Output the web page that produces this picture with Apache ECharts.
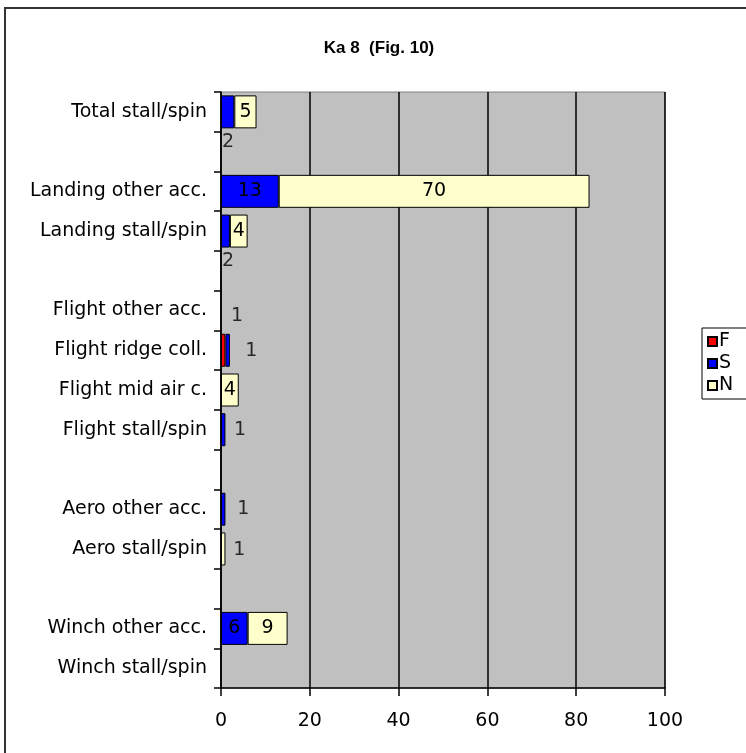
<!DOCTYPE html>
<html>
<head>
<meta charset="utf-8">
<script src="https://cdn.jsdelivr.net/npm/echarts@6/dist/echarts.min.js"></script>
<style>
html,body{margin:0;padding:0;background:#fff;}
#c{width:746px;height:753px;}
</style>
</head>
<body>
<div id="c"></div>
<script>
const categories = ['Total stall/spin', ' ', 'Landing other acc.', 'Landing stall/spin', '  ',
  'Flight other acc.', 'Flight ridge coll.', 'Flight mid air c.', 'Flight stall/spin', '   ',
  'Aero other acc.', 'Aero stall/spin', '    ', 'Winch other acc.', 'Winch stall/spin'];
const seriesF = [null, null, null, null, null, null, 1, null, null, null, null, null, null, null, null];
const seriesS = [3, null, 13, 2, null, null, 1, null, 1, null, 1, null, null, 6, null];
const seriesN = [5, null, 70, 4, null, null, null, 4, null, null, null, 1, null, 9, null];
const xTicks = [0, 20, 40, 60, 80, 100];
// stray data labels shown beside small bars
const extraLabelText = ['2', '2', '1', '1', '1', '1', '1'];
const extraLabelRow = [1, 4, 5, 6, 8, 10, 11];
const extraLabelValue = [1.6, 1.6, 3.6, 6.8, 4.3, 5.0, 4.1];

const extraOffsets = [-10, -10, 6, 1, 0, 0, 1];
const FONT = '"DejaVu Sans", Verdana, sans-serif';
const FS = 19;
const chart = echarts.init(document.getElementById('c'));
function barLabel() {
  return {
    show: true, position: 'inside', color: '#000', fontFamily: FONT, fontSize: FS,
    formatter: p => (p.value != null && p.value >= 4) ? String(p.value) : ''
  };
}
const extraData = extraLabelText.map((t, i) => ({
  value: [extraLabelValue[i], extraLabelRow[i]],
  label: { offset: [0, extraOffsets[i]] }
}));
chart.setOption({
  animation: false,
  backgroundColor: '#fff',
  title: {
    text: 'Ka 8  (Fig. 10)', left: 374, top: 35, textAlign: 'center',
    textStyle: { fontFamily: '"Liberation Sans Narrow", "Liberation Sans", Arial, sans-serif', fontWeight: 'bold', fontSize: 17, color: '#000' }
  },
  graphic: [{
    type: 'rect', shape: { x: 5, y: 8, width: 800, height: 800 },
    style: { fill: 'none', stroke: '#333', lineWidth: 2 }, silent: true, z: 100
  }],
  legend: {
    orient: 'vertical', left: 702, top: 328, data: ['F', 'S', 'N'],
    itemWidth: 9, itemHeight: 9, itemGap: 3, icon: 'rect',
    padding: [4, 30, 4, 5],
    borderColor: '#000', borderWidth: 1, backgroundColor: '#fff',
    textStyle: { fontFamily: FONT, fontSize: FS, color: '#000', padding: [0, 0, 0, -3] }
  },
  grid: {
    left: 221, top: 92, width: 444, height: 596, show: true,
    backgroundColor: '#C0C0C0', borderColor: '#808080', borderWidth: 1
  },
  xAxis: {
    type: 'value', min: 0, max: 100, interval: 20,
    axisLine: { show: true, lineStyle: { color: '#000', width: 1.5 } },
    axisTick: { show: true, length: 8, lineStyle: { color: '#000', width: 1.5 } },
    axisLabel: { margin: 24, fontFamily: FONT, fontSize: FS, color: '#000', formatter: v => xTicks.includes(v) ? String(v) : '' },
    splitLine: { show: true, lineStyle: { color: '#000', width: 1.5 } }
  },
  yAxis: {
    type: 'category', inverse: true, data: categories,
    axisLine: { show: true, lineStyle: { color: '#000', width: 1.5 } },
    axisTick: { show: true, length: 7, lineStyle: { color: '#000', width: 1.5 } },
    axisLabel: { margin: 14, fontFamily: FONT, fontSize: FS, color: '#000' },
    splitLine: { show: false }
  },
  series: [
    { name: 'F', type: 'bar', stack: 'a', data: seriesF, barCategoryGap: '17%',
      itemStyle: { color: '#FF0000', borderColor: '#000', borderWidth: 1 }, label: barLabel() },
    { name: 'S', type: 'bar', stack: 'a', data: seriesS,
      itemStyle: { color: '#0000FF', borderColor: '#000', borderWidth: 1 }, label: barLabel() },
    { name: 'N', type: 'bar', stack: 'a', data: seriesN,
      itemStyle: { color: '#FFFFCC', borderColor: '#000', borderWidth: 1 }, label: barLabel() },
    { name: 'labels', type: 'scatter', data: extraData, symbolSize: 0, silent: true,
      label: { show: true, position: 'inside', color: '#000', fontFamily: FONT, fontSize: FS,
        formatter: p => extraLabelText[p.dataIndex] } }
  ]
});
</script>
</body>
</html>
